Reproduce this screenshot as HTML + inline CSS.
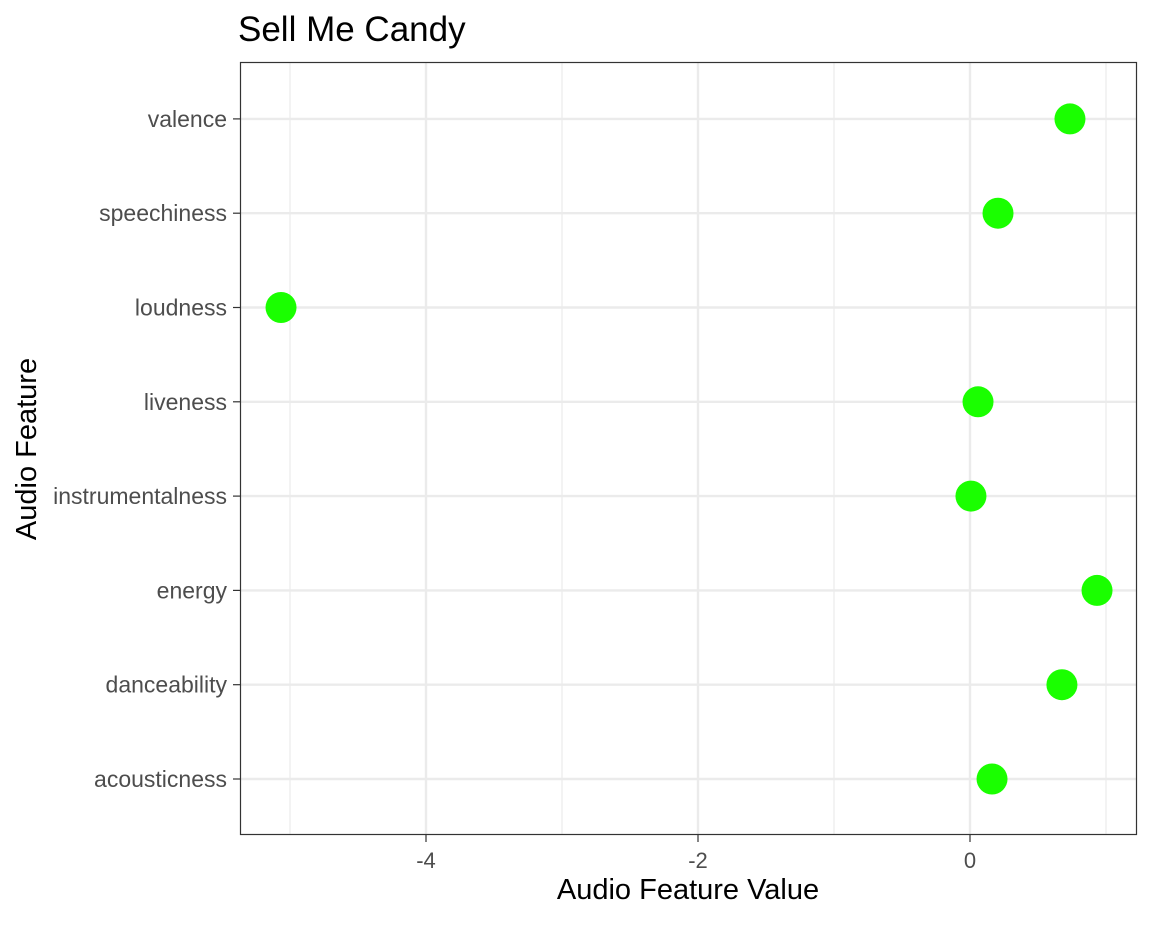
<!DOCTYPE html>
<html><head><meta charset="utf-8"><style>
body{margin:0;background:#fff;font-family:"Liberation Sans",sans-serif;}
</style></head><body>
<svg width="1152" height="921" xmlns="http://www.w3.org/2000/svg">
<text x="238" y="41" font-size="35" fill="#000">Sell Me Candy</text>
<g id="grid"></g>
<rect x="240.5" y="62.5" width="896" height="772" fill="none" stroke="#333" stroke-width="1.2"/>
<g id="marks"></g>
<g id="axes"></g>
<text x="688" y="899" font-size="29" text-anchor="middle" fill="#000">Audio Feature Value</text>
<text transform="translate(36,449) rotate(-90)" font-size="29" text-anchor="middle" fill="#000">Audio Feature</text>
</svg>
<script>
const categories=["acousticness","danceability","energy","instrumentalness","liveness","loudness","speechiness","valence"];
const values=[0.162,0.676,0.934,0.007,0.059,-5.066,0.206,0.735];
const xTicks=[-4,-2,0];
const xMinor=[-5,-3,-1,1];
const ns="http://www.w3.org/2000/svg";
const x=v=>970+v*136;
const y=i=>779-i*94.3;
function mk(t,a,p){const e=document.createElementNS(ns,t);for(const k in a)e.setAttribute(k,a[k]);p.appendChild(e);return e;}
const grid=document.getElementById('grid'),marks=document.getElementById('marks'),axes=document.getElementById('axes');
xMinor.forEach(v=>{const l=mk('line',{x1:x(v),x2:x(v),y1:62,y2:835,stroke:'#ebebeb','stroke-width':1.2},grid);

});
xTicks.forEach(v=>{const l=mk('line',{x1:x(v),x2:x(v),y1:62,y2:835,stroke:'#ebebeb','stroke-width':2.4},grid);


const t=mk('line',{x1:x(v),x2:x(v),y1:835,y2:842,stroke:'#333','stroke-width':1.2},axes);


const s=mk('text',{x:x(v),y:868,'font-size':22,'text-anchor':'middle',fill:'#4d4d4d'},axes);s.textContent=v;

});
categories.forEach((c,i)=>{const l=mk('line',{x1:240,x2:1137,y1:y(i),y2:y(i),stroke:'#ebebeb','stroke-width':2.4},grid);


const t=mk('line',{x1:233,x2:240,y1:y(i),y2:y(i),stroke:'#333','stroke-width':1.2},axes);


const s=mk('text',{x:227,y:y(i)+8,'font-size':23,'text-anchor':'end',fill:'#4d4d4d'},axes);s.textContent=c;


const p=mk('circle',{cx:x(values[i]),cy:y(i),r:15.5,fill:'#1aff00'},marks);

});
</script>
</body></html>
